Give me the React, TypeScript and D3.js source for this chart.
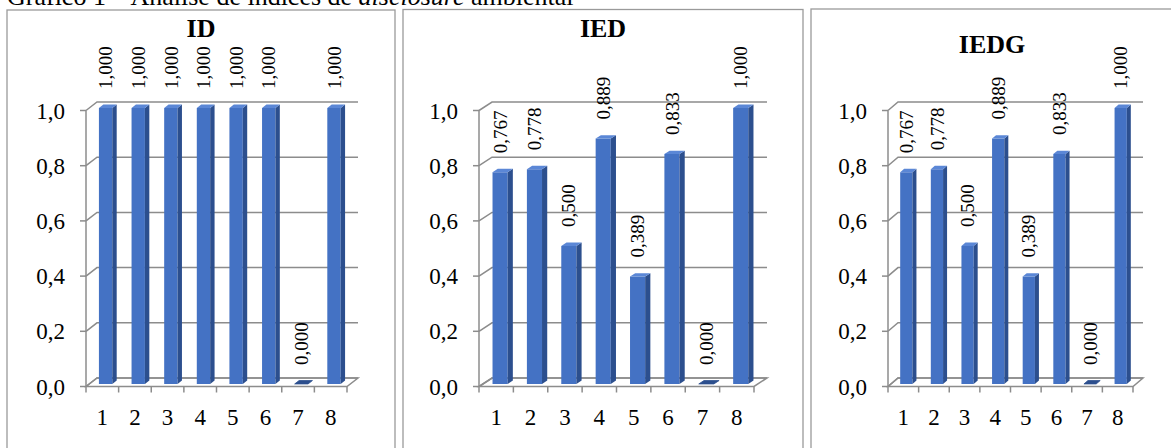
import React from "react";
import * as d3 from "d3";

// Índices por empresa (1–8)
const categories = ["1", "2", "3", "4", "5", "6", "7", "8"];
const idValues = [1.0, 1.0, 1.0, 1.0, 1.0, 1.0, 0.0, 1.0];
const iedValues = [0.767, 0.778, 0.5, 0.889, 0.389, 0.833, 0.0, 1.0];
const iedgValues = [0.767, 0.778, 0.5, 0.889, 0.389, 0.833, 0.0, 1.0];
const yTicks = [0, 0.2, 0.4, 0.6, 0.8, 1.0];
const panelTitles = ["ID", "IED", "IEDG"];

const W = 1171;
const H = 448;
const SERIF = '"Liberation Serif", "Times New Roman", serif';

const FRONT = "#4472C4";
const SIDE = "#2C4F8E";
const TOP = "#5B87D6";
const GRID = "#8c8c8c";

type PanelLayout = {
  bx: number;
  by: number;
  bw: number;
  titleY: number;
  x0: number;
  x1: number;
  dx: number;
  barFrac: number;
};

const layouts: PanelLayout[] = [
  { bx: 7, by: 10, bw: 388, titleY: 36.5, x0: 86, x1: 347, dx: 11, barFrac: 0.41 },
  { bx: 403, by: 9.5, bw: 400, titleY: 36.5, x0: 479, x1: 754, dx: 13, barFrac: 0.44 },
  { bx: 811, by: 9, bw: 380, titleY: 53, x0: 888, x1: 1133, dx: 10, barFrac: 0.4 },
];

const DY = -8.5; // vertical depth offset
const Z0 = 0.3; // bar front plane (fraction of depth)
const Z1 = 0.7; // bar back plane

const fmt = (v: number, d: number) => v.toFixed(d).replace(".", ",");

function Panel({ layout, title, values }: { layout: PanelLayout; title: string; values: number[] }) {
  const { bx, by, bw, titleY, x0, x1, dx, barFrac } = layout;
  const x = d3.scaleBand<string>().domain(categories).range([x0, x1]).padding(0);
  const y = d3.scaleLinear().domain([0, 1]).range([386.5, 110.5]);
  const P = (px: number, v: number, z: number): [number, number] => [px + z * dx, y(v) + z * DY];
  const pts = (arr: [number, number][]) => arr.map((p) => p.join(",")).join(" ");
  const bandW = x.bandwidth();
  const barW = bandW * barFrac;

  return (
    <g>
      <rect x={bx} y={by} width={bw} height={H + 40} fill="#fff" stroke="#9a9a9a" strokeWidth={1.3} />
      <text x={bx + bw / 2 - (bx + bw > W ? (bx + bw - W) / 2 - 1 : 0)} y={titleY} textAnchor="middle"
        fontFamily={SERIF} fontWeight="bold" fontSize={26}>{title}</text>

      {/* back wall gridlines and side wall */}
      {yTicks.map((t) => {
        const [ax, ay] = P(x0, t, 0);
        const [bx2, by2] = P(x0, t, 1);
        const [cx, cy] = P(x1, t, 1);
        return (
          <g key={t}>
            <polyline points={pts([[ax, ay], [bx2, by2], [cx, cy]])} fill="none" stroke={GRID} strokeWidth={1.5} />
            <line x1={ax - 6} y1={ay} x2={ax} y2={ay} stroke={GRID} strokeWidth={1.5} />
            <text x={x0 - 21} y={ay} dy="0.35em" textAnchor="end" fontFamily={SERIF} fontSize={23}>{fmt(t, 1)}</text>
          </g>
        );
      })}

      {/* floor */}
      <polygon points={pts([P(x0, 0, 0), P(x1, 0, 0), P(x1, 0, 1), P(x0, 0, 1)])} fill="none" stroke={GRID} strokeWidth={1.5} />
      <line x1={x0} y1={y(0)} x2={x0} y2={y(1)} stroke={GRID} strokeWidth={1.5} />

      {/* category ticks and labels */}
      {[...categories.map((c) => x(c) as number), x1].map((tx, i) => (
        <line key={i} x1={tx} y1={y(0)} x2={tx} y2={y(0) + 6} stroke={GRID} strokeWidth={1.5} />
      ))}
      {categories.map((c) => (
        <text key={c} x={(x(c) as number) + bandW / 2} y={425} textAnchor="middle" fontFamily={SERIF} fontSize={23}>{c}</text>
      ))}

      {/* bars */}
      {values.map((v, i) => {
        const left = (x(categories[i]) as number) + (bandW - barW) / 2;
        const right = left + barW;
        const front = pts([P(left, 0, Z0), P(right, 0, Z0), P(right, v, Z0), P(left, v, Z0)]);
        const side = pts([P(right, 0, Z0), P(right, 0, Z1), P(right, v, Z1), P(right, v, Z0)]);
        const top = pts([P(left, v, Z0), P(right, v, Z0), P(right, v, Z1), P(left, v, Z1)]);
        const [lx, ly] = P(left + barW / 2, v, Z0);
        return (
          <g key={i}>
            {v > 0 && <polygon points={front} fill={FRONT} />}
            {v > 0 && <polygon points={side} fill={SIDE} />}
            <polygon points={top} fill={v > 0 ? TOP : SIDE} stroke={v > 0 ? "none" : SIDE} strokeWidth={0.8} />
            <text transform={`translate(${lx},${ly - 19}) rotate(-90)`} dy="0.35em" textAnchor="start"
              fontFamily={SERIF} fontSize={19}>{fmt(v, 3)}</text>
          </g>
        );
      })}
    </g>
  );
}

export default function App() {
  const series = [idValues, iedValues, iedgValues];
  return (
    <svg width={W} height={H} style={{ position: "absolute", left: 0, top: 0, background: "#fff" }}>
      <rect x={0} y={0} width={W} height={H} fill="#fff" />
      {layouts.map((l, i) => (
        <Panel key={i} layout={l} title={panelTitles[i]} values={series[i]} />
      ))}
      <text x={7} y={5} fontFamily={SERIF} fontSize={26}>
        Gráfico 1 – Análise de índices de <tspan fontStyle="italic">disclosure</tspan> ambiental
      </text>
    </svg>
  );
}
